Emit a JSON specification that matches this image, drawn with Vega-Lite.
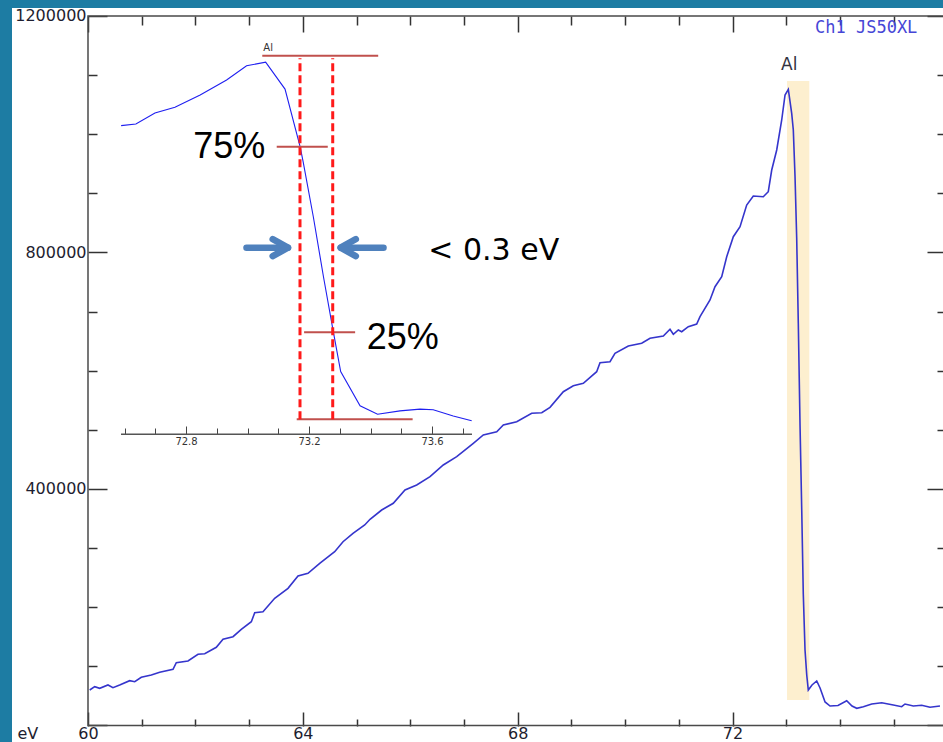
{
  "$schema": "https://vega.github.io/schema/vega-lite/v6.json",
  "width": 931,
  "height": 734,
  "autosize": {"type": "none"},
  "padding": {"left": 12, "top": 8, "right": 0, "bottom": 0},
  "background": "#1d7ca3",
  "config": {
    "view": {"fill": "white", "stroke": null},
    "axis": {"domain": false, "grid": false}
  },
  "datasets": {
    "spectrum": [
      {"eV": 60.032, "counts": 60040}, {"eV": 60.125, "counts": 65620}, {"eV": 60.218, "counts": 62920}, {"eV": 60.372, "counts": 68500},
      {"eV": 60.465, "counts": 63930}, {"eV": 60.59, "counts": 68500}, {"eV": 60.776, "counts": 75770}, {"eV": 60.87, "counts": 74080},
      {"eV": 60.992, "counts": 81520}, {"eV": 61.179, "counts": 85410}, {"eV": 61.335, "counts": 89980}, {"eV": 61.583, "counts": 95050},
      {"eV": 61.644, "counts": 106210}, {"eV": 61.862, "counts": 109090}, {"eV": 62.048, "counts": 120420}, {"eV": 62.173, "counts": 121440},
      {"eV": 62.389, "counts": 132260}, {"eV": 62.514, "counts": 145790}, {"eV": 62.7, "counts": 150190}, {"eV": 62.854, "counts": 162700},
      {"eV": 63.041, "counts": 175560}, {"eV": 63.104, "counts": 190780}, {"eV": 63.258, "counts": 192470}, {"eV": 63.476, "counts": 215140},
      {"eV": 63.724, "counts": 232050}, {"eV": 63.91, "counts": 252850}, {"eV": 64.096, "counts": 257420}, {"eV": 64.314, "counts": 274330},
      {"eV": 64.593, "counts": 293950}, {"eV": 64.748, "counts": 310860}, {"eV": 64.934, "counts": 325070}, {"eV": 65.152, "counts": 339110},
      {"eV": 65.251, "counts": 348750}, {"eV": 65.468, "counts": 364480}, {"eV": 65.684, "counts": 375810}, {"eV": 65.902, "counts": 398310},
      {"eV": 66.12, "counts": 406760}, {"eV": 66.368, "counts": 420800}, {"eV": 66.615, "counts": 440590}, {"eV": 66.865, "counts": 454630},
      {"eV": 67.174, "counts": 477290}, {"eV": 67.36, "counts": 491330}, {"eV": 67.61, "counts": 496910}, {"eV": 67.733, "counts": 508240},
      {"eV": 67.982, "counts": 513820}, {"eV": 68.261, "counts": 528030}, {"eV": 68.448, "counts": 529040}, {"eV": 68.602, "counts": 538170},
      {"eV": 68.85, "counts": 564560}, {"eV": 69.036, "counts": 574710}, {"eV": 69.222, "counts": 578770}, {"eV": 69.471, "counts": 598390},
      {"eV": 69.533, "counts": 613610}, {"eV": 69.719, "counts": 615300}, {"eV": 69.812, "counts": 629500}, {"eV": 70.06, "counts": 641850},
      {"eV": 70.309, "counts": 646420}, {"eV": 70.464, "counts": 654870}, {"eV": 70.712, "counts": 658760}, {"eV": 70.836, "counts": 670100},
      {"eV": 70.898, "counts": 661640}, {"eV": 70.991, "counts": 668910}, {"eV": 71.054, "counts": 666040}, {"eV": 71.177, "counts": 674490},
      {"eV": 71.333, "counts": 679060}, {"eV": 71.395, "counts": 691410}, {"eV": 71.581, "counts": 719660}, {"eV": 71.674, "counts": 742150},
      {"eV": 71.799, "counts": 759060}, {"eV": 71.892, "counts": 792890}, {"eV": 72.015, "counts": 826720}, {"eV": 72.14, "counts": 843630},
      {"eV": 72.264, "counts": 880330}, {"eV": 72.387, "counts": 895550}, {"eV": 72.573, "counts": 894370}, {"eV": 72.666, "counts": 902820},
      {"eV": 72.73, "counts": 939530}, {"eV": 72.823, "counts": 973350}, {"eV": 72.916, "counts": 1024090}, {"eV": 72.978, "counts": 1066370},
      {"eV": 73.039, "counts": 1076010}, {"eV": 73.102, "counts": 1035410}, {"eV": 73.132, "counts": 1007170}, {"eV": 73.164, "counts": 928190},
      {"eV": 73.195, "counts": 824510}, {"eV": 73.225, "counts": 680240}, {"eV": 73.257, "counts": 508240}, {"eV": 73.289, "counts": 363460},
      {"eV": 73.318, "counts": 221900}, {"eV": 73.35, "counts": 127690}, {"eV": 73.382, "counts": 85410}, {"eV": 73.411, "counts": 60040},
      {"eV": 73.48, "counts": 68500}, {"eV": 73.568, "counts": 75260}, {"eV": 73.63, "counts": 63420}, {"eV": 73.723, "counts": 39750},
      {"eV": 73.816, "counts": 32980}, {"eV": 73.964, "counts": 33830}, {"eV": 74.126, "counts": 41940}, {"eV": 74.225, "counts": 32980},
      {"eV": 74.313, "counts": 29090}, {"eV": 74.436, "counts": 31800}, {"eV": 74.592, "counts": 36360}, {"eV": 74.778, "counts": 38560},
      {"eV": 74.994, "counts": 34670}, {"eV": 75.15, "counts": 31800}, {"eV": 75.212, "counts": 36360}, {"eV": 75.366, "counts": 32980},
      {"eV": 75.523, "counts": 34160}, {"eV": 75.677, "counts": 30780}, {"eV": 75.863, "counts": 32980}
    ],
    "inset": [
      {"eV": 72.589, "pct": 80.75}, {"eV": 72.637, "pct": 81.2}, {"eV": 72.699, "pct": 84.2}, {"eV": 72.764, "pct": 85.8},
      {"eV": 72.846, "pct": 89.2}, {"eV": 72.932, "pct": 93.3}, {"eV": 72.997, "pct": 97.2}, {"eV": 73.059, "pct": 98.2},
      {"eV": 73.122, "pct": 90.8}, {"eV": 73.171, "pct": 75.0}, {"eV": 73.181, "pct": 70.8}, {"eV": 73.214, "pct": 55.7},
      {"eV": 73.247, "pct": 39.2}, {"eV": 73.279, "pct": 24.1}, {"eV": 73.303, "pct": 13.1}, {"eV": 73.366, "pct": 3.7},
      {"eV": 73.423, "pct": 1.4}, {"eV": 73.496, "pct": 2.3}, {"eV": 73.561, "pct": 2.8}, {"eV": 73.604, "pct": 2.6},
      {"eV": 73.669, "pct": 0.9}, {"eV": 73.729, "pct": -0.4}
    ]
  },
  "layer": [
    {
      "data": {"values": [{"x": 60, "x2": 76.5, "y": 0, "y2": 1200000}]},
      "mark": {"type": "rect", "fill": "transparent", "stroke": "#4a4a4a", "strokeWidth": 1.5},
      "encoding": {
        "x": {"field": "x", "type": "quantitative",
          "scale": {"domain": [58.585, 75.919], "nice": false, "zero": false},
          "axis": {"orient": "bottom", "offset": -16, "values": [60,61,62,63,64,65,66,67,68,69,70,71,72,73,74,75],
            "domain": false, "grid": false, "tickColor": "#333333", "tickWidth": 1.5,
            "tickSize": {"condition": {"test": "datum.value % 4 === 0", "value": -14}, "value": -7},
            "labelExpr": "datum.value % 4 === 0 ? datum.label : ''", "labelPadding": 13,
            "labelFont": "DejaVu Sans", "labelFontSize": 16, "labelColor": "#1e1e30",
            "labelOverlap": false, "labelFlush": false, "labelBound": false,
            "title": "eV", "titleX": 5, "titleY": 12, "titleAlign": "left", "titleBaseline": "alphabetic",
            "titleFont": "DejaVu Sans", "titleFontSize": 16, "titleFontWeight": "normal", "titleColor": "#1e1e30"}},
        "x2": {"field": "x2"},
        "y": {"field": "y", "type": "quantitative",
          "scale": {"domain": [-27907, 1213530], "nice": false, "zero": false},
          "axis": {"orient": "left", "offset": -76,
            "values": [0,100000,200000,300000,400000,500000,600000,700000,800000,900000,1000000,1100000,1200000],
            "format": "d", "domain": false, "grid": false, "tickColor": "#333333", "tickWidth": 1.5,
            "tickSize": {"condition": {"test": "datum.value % 400000 === 0", "value": -19}, "value": -9},
            "labelExpr": "datum.value % 400000 === 0 && datum.value > 0 ? datum.label : ''", "labelPadding": 21,
            "labelFont": "DejaVu Sans", "labelFontSize": 16, "labelColor": "#1e1e30",
            "labelOverlap": false, "labelFlush": false, "labelBound": false, "title": null}},
        "y2": {"field": "y2"}
      }
    },
    {
      "data": {"values": [{"x": 73.015, "x2": 73.43, "y": 43100, "y2": 1090000}]},
      "mark": {"type": "rect", "color": "#fdefcf"},
      "encoding": {
        "x": {"field": "x", "type": "quantitative",
          "scale": {"domain": [58.585, 75.919], "nice": false, "zero": false},
          "axis": {"orient": "top", "offset": -8, "values": [60,61,62,63,64,65,66,67,68,69,70,71,72,73,74,75],
            "domain": false, "grid": false, "labels": false, "tickColor": "#333333", "tickWidth": 1.5,
            "tickSize": {"condition": {"test": "datum.value % 4 === 0", "value": -16}, "value": -9}, "title": null}},
        "x2": {"field": "x2"},
        "y": {"field": "y", "type": "quantitative",
          "scale": {"domain": [-27907, 1213530], "nice": false, "zero": false},
          "axis": {"orient": "right", "offset": 0,
            "values": [0,100000,200000,300000,400000,500000,600000,700000,800000,900000,1000000,1100000,1200000],
            "domain": false, "grid": false, "labels": false, "tickColor": "#333333", "tickWidth": 1.5,
            "tickSize": {"condition": {"test": "datum.value % 400000 === 0", "value": -16}, "value": -6}, "title": null}},
        "y2": {"field": "y2"}
      }
    },
    {
      "data": {"name": "spectrum"},
      "mark": {"type": "line", "color": "#3535cc", "strokeWidth": 1.6},
      "encoding": {
        "x": {"field": "eV", "type": "quantitative", "scale": {"domain": [58.585, 75.919], "nice": false, "zero": false}, "axis": null},
        "y": {"field": "counts", "type": "quantitative", "scale": {"domain": [-27907, 1213530], "nice": false, "zero": false}, "axis": null}
      }
    },
    {
      "data": {"values": [{"x": 72.903, "y": 1108700, "t": "Al"}]},
      "mark": {"type": "text", "align": "left", "baseline": "alphabetic", "font": "DejaVu Sans", "fontSize": 17, "color": "#333340"},
      "encoding": {
        "x": {"field": "x", "type": "quantitative", "scale": {"domain": [58.585, 75.919], "nice": false, "zero": false}, "axis": null},
        "y": {"field": "y", "type": "quantitative", "scale": {"domain": [-27907, 1213530], "nice": false, "zero": false}, "axis": null},
        "text": {"field": "t"}
      }
    },
    {
      "data": {"values": [{"x": 73.536, "y": 1170700, "t": "Ch1 JS50XL"}]},
      "mark": {"type": "text", "align": "left", "baseline": "alphabetic", "font": "DejaVu Sans Mono", "fontSize": 17, "color": "#4646d6"},
      "encoding": {
        "x": {"field": "x", "type": "quantitative", "scale": {"domain": [58.585, 75.919], "nice": false, "zero": false}, "axis": null},
        "y": {"field": "y", "type": "quantitative", "scale": {"domain": [-27907, 1213530], "nice": false, "zero": false}, "axis": null},
        "text": {"field": "t"}
      }
    },
    {
      "data": {"values": [{"x": 72.5886, "x2": 73.73, "y": -4.13}]},
      "mark": {"type": "rule", "color": "#555555", "strokeWidth": 1.5},
      "encoding": {
        "x": {"field": "x", "type": "quantitative", "scale": {"domain": [72.2341, 75.2618], "nice": false, "zero": false}, "axis": null},
        "x2": {"field": "x2"},
        "y": {"field": "y", "type": "quantitative", "scale": {"domain": [-88.75, 113.1], "nice": false, "zero": false}, "axis": null}
      }
    },
    {
      "data": {"name": "inset"},
      "mark": {"type": "line", "color": "#1f1ff0", "strokeWidth": 1.1},
      "encoding": {
        "x": {"field": "eV", "type": "quantitative",
          "scale": {"domain": [72.2341, 75.2618], "nice": false, "zero": false},
          "axis": {"orient": "bottom", "offset": -308,
            "values": [72.6,72.7,72.8,72.9,73.0,73.1,73.2,73.3,73.4,73.5,73.6,73.7],
            "domain": false, "grid": false, "tickColor": "#444444", "tickWidth": 1,
            "tickSize": {"condition": {"test": "round(datum.value*10) % 4 === 0", "value": -8}, "value": -6},
            "labelExpr": "round(datum.value*10) % 4 === 0 ? format(datum.value, '.1f') : ''", "labelPadding": 10,
            "labelFont": "DejaVu Sans", "labelFontSize": 10, "labelColor": "#333333",
            "labelOverlap": false, "labelFlush": false, "labelBound": false, "title": null}},
        "y": {"field": "pct", "type": "quantitative", "scale": {"domain": [-88.75, 113.1], "nice": false, "zero": false}, "axis": null}
      }
    },
    {
      "data": {"values": [
        {"x": 73.048, "x2": 73.425, "y": 100},
        {"x": 73.16, "x2": 73.537, "y": 0},
        {"x": 73.095, "x2": 73.261, "y": 74.97},
        {"x": 73.184, "x2": 73.35, "y": 23.93}
      ]},
      "mark": {"type": "rule", "color": "#c0504d", "strokeWidth": 2},
      "encoding": {
        "x": {"field": "x", "type": "quantitative", "scale": {"domain": [72.2341, 75.2618], "nice": false, "zero": false}, "axis": null},
        "x2": {"field": "x2"},
        "y": {"field": "y", "type": "quantitative", "scale": {"domain": [-88.75, 113.1], "nice": false, "zero": false}, "axis": null}
      }
    },
    {
      "data": {"values": [{"x": 73.1707, "y": 0, "y2": 99.3}, {"x": 73.2771, "y": 0, "y2": 99.3}]},
      "mark": {"type": "rule", "color": "#ff1a1a", "strokeWidth": 3, "strokeDash": [8, 4]},
      "encoding": {
        "x": {"field": "x", "type": "quantitative", "scale": {"domain": [72.2341, 75.2618], "nice": false, "zero": false}, "axis": null},
        "y": {"field": "y", "type": "quantitative", "scale": {"domain": [-88.75, 113.1], "nice": false, "zero": false}, "axis": null},
        "y2": {"field": "y2"}
      }
    },
    {
      "data": {"values": [{"x": 73.0514, "y": 101.4, "t": "Al"}]},
      "mark": {"type": "text", "align": "left", "baseline": "alphabetic", "font": "DejaVu Sans", "fontSize": 10, "color": "#333333"},
      "encoding": {
        "x": {"field": "x", "type": "quantitative", "scale": {"domain": [72.2341, 75.2618], "nice": false, "zero": false}, "axis": null},
        "y": {"field": "y", "type": "quantitative", "scale": {"domain": [-88.75, 113.1], "nice": false, "zero": false}, "axis": null},
        "text": {"field": "t"}
      }
    },
    {
      "data": {"values": [{"x": 72.8237, "y": 71.97, "t": "75%"}, {"x": 73.3877, "y": 19.25, "t": "25%"}]},
      "mark": {"type": "text", "align": "left", "baseline": "alphabetic", "font": "Liberation Sans", "fontSize": 36, "color": "#000000"},
      "encoding": {
        "x": {"field": "x", "type": "quantitative", "scale": {"domain": [72.2341, 75.2618], "nice": false, "zero": false}, "axis": null},
        "y": {"field": "y", "type": "quantitative", "scale": {"domain": [-88.75, 113.1], "nice": false, "zero": false}, "axis": null},
        "text": {"field": "t"}
      }
    },
    {
      "data": {"values": [{"x": 73.588, "y": 43.81, "t": "< 0.3 eV"}]},
      "mark": {"type": "text", "align": "left", "baseline": "alphabetic", "font": "DejaVu Sans", "fontSize": 30, "color": "#000000"},
      "encoding": {
        "x": {"field": "x", "type": "quantitative", "scale": {"domain": [72.2341, 75.2618], "nice": false, "zero": false}, "axis": null},
        "y": {"field": "y", "type": "quantitative", "scale": {"domain": [-88.75, 113.1], "nice": false, "zero": false}, "axis": null},
        "text": {"field": "t"}
      }
    },
    {
      "data": {"values": [{"x": 72.9967, "x2": 73.1317, "y": 47.19}, {"x": 73.304, "x2": 73.4423, "y": 47.19}]},
      "mark": {"type": "rule", "color": "#4f81bd", "strokeWidth": 6.5, "strokeCap": "round"},
      "encoding": {
        "x": {"field": "x", "type": "quantitative", "scale": {"domain": [72.2341, 75.2618], "nice": false, "zero": false}, "axis": null},
        "x2": {"field": "x2"},
        "y": {"field": "y", "type": "quantitative", "scale": {"domain": [-88.75, 113.1], "nice": false, "zero": false}, "axis": null}
      }
    },
    {
      "data": {"values": [{"x": 73.1317, "y": 47.19}]},
      "mark": {"type": "point", "shape": "M-1.8,-1L0,0L-1.8,1", "size": 289, "filled": false, "stroke": "#4f81bd", "strokeWidth": 6.5, "strokeJoin": "round", "strokeCap": "round", "opacity": 1},
      "encoding": {
        "x": {"field": "x", "type": "quantitative", "scale": {"domain": [72.2341, 75.2618], "nice": false, "zero": false}, "axis": null},
        "y": {"field": "y", "type": "quantitative", "scale": {"domain": [-88.75, 113.1], "nice": false, "zero": false}, "axis": null}
      }
    },
    {
      "data": {"values": [{"x": 73.3024, "y": 47.19}]},
      "mark": {"type": "point", "shape": "M1.8,-1L0,0L1.8,1", "size": 289, "filled": false, "stroke": "#4f81bd", "strokeWidth": 6.5, "strokeJoin": "round", "strokeCap": "round", "opacity": 1},
      "encoding": {
        "x": {"field": "x", "type": "quantitative", "scale": {"domain": [72.2341, 75.2618], "nice": false, "zero": false}, "axis": null},
        "y": {"field": "y", "type": "quantitative", "scale": {"domain": [-88.75, 113.1], "nice": false, "zero": false}, "axis": null}
      }
    }
  ],
  "resolve": {
    "scale": {"x": "independent", "y": "independent"},
    "axis": {"x": "independent", "y": "independent"}
  }
}
